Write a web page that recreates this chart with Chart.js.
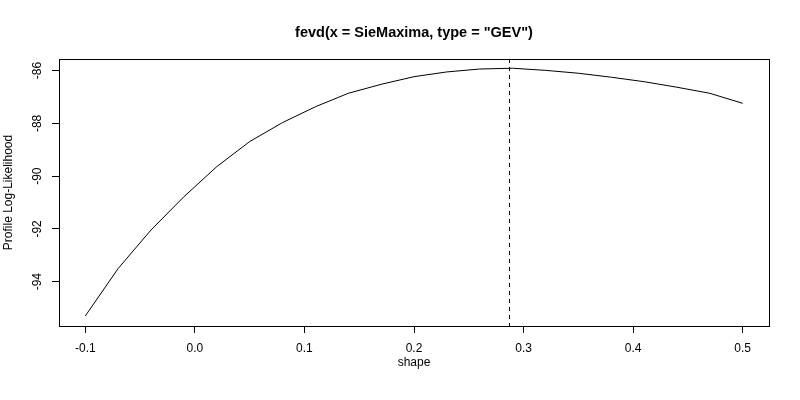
<!DOCTYPE html>
<html>
<head>
<meta charset="utf-8">
<script src="https://cdn.jsdelivr.net/npm/chart.js@4"></script>
<style>
  html, body { margin: 0; padding: 0; background: #fff; }
  #wrap { width: 800px; height: 400px; }
</style>
</head>
<body>
<div id="wrap"><canvas id="chart" width="800" height="400"></canvas></div>
<script>
// profile log-likelihood
const shapeVals = [-0.1, -0.07, -0.04, -0.01, 0.02, 0.05, 0.08, 0.11, 0.14, 0.17, 0.20,
                   0.23, 0.26, 0.29, 0.32, 0.35, 0.38, 0.41, 0.44, 0.47, 0.50];
const profLik = [-95.30, -93.50, -92.04, -90.78, -89.64, -88.69, -87.97, -87.37, -86.86, -86.52, -86.23,
                 -86.05, -85.94, -85.91, -85.99, -86.10, -86.25, -86.42, -86.63, -86.86, -87.24];
const mleShape = 0.2865;
const xTicks = [-0.1, 0.0, 0.1, 0.2, 0.3, 0.4, 0.5];
const yTicks = [-94, -92, -90, -88, -86];

const FONT = 'Liberation Sans, Arial, sans-serif';

// R-style box around the plot region + dashed line at the MLE
const boxPlugin = {
    id: 'rbox',
    afterDatasetsDraw(c) {
        const { ctx, chartArea: a } = c;
        const px = c.scales.x.getPixelForValue(mleShape);
        ctx.save();
        ctx.strokeStyle = '#000';
        ctx.lineWidth = 1;
        ctx.setLineDash([4, 4]);
        ctx.beginPath();
        ctx.moveTo(Math.round(px) + 0.5, a.top);
        ctx.lineTo(Math.round(px) + 0.5, a.bottom);
        ctx.stroke();
        ctx.setLineDash([]);
        ctx.strokeRect(Math.round(a.left) + 0.5, Math.round(a.top) + 0.5,
                       Math.round(a.right - a.left), Math.round(a.bottom - a.top));
        ctx.restore();
    }
};

const ctx = document.getElementById('chart').getContext('2d');
const chart = new Chart(ctx, {
    type: 'line',
    data: {
        datasets: [{
            data: shapeVals.map((s, i) => ({ x: s, y: profLik[i] })),
            borderColor: '#000',
            borderWidth: 1,
            pointRadius: 0,
            tension: 0,
            fill: false
        }]
    },
    options: {
        responsive: false,
        animation: false,
        layout: { padding: { left: 0, right: 31, top: 0, bottom: 0 } },
        plugins: {
            legend: { display: false },
            tooltip: { enabled: false },
            title: {
                display: true,
                text: 'fevd(x = SieMaxima, type = "GEV")',
                fullSize: false,
                color: '#000',
                font: { family: FONT, size: 14.5, weight: 'bold' },
                padding: { top: 24, bottom: 17.6 }
            }
        },
        scales: {
            x: {
                type: 'linear',
                min: -0.124,
                max: 0.524,
                afterBuildTicks: s => { s.ticks = xTicks.map(v => ({ value: v })); },
                afterFit: s => { s.height = 74; },
                grid: { display: true, drawOnChartArea: false, drawTicks: true, tickLength: 7, color: '#000' },
                border: { display: false },
                ticks: {
                    color: '#000',
                    font: { family: FONT, size: 12 },
                    padding: 8,
                    maxRotation: 0,
                    callback: v => v.toFixed(1)
                },
                title: {
                    display: true,
                    text: 'shape',
                    color: '#000',
                    font: { family: FONT, size: 12 },
                    padding: { top: 0, bottom: 30 }
                }
            },
            y: {
                min: -95.68,
                max: -85.56,
                afterBuildTicks: s => { s.ticks = yTicks.map(v => ({ value: v })); },
                afterFit: s => { s.width = 59; },
                grid: { display: true, drawOnChartArea: false, drawTicks: true, tickLength: 7, color: '#000' },
                border: { display: false },
                ticks: {
                    color: '#000',
                    font: { family: FONT, size: 12 },
                    padding: 6,
                    minRotation: 90,
                    maxRotation: 90,
                    crossAlign: 'center',
                    callback: v => String(v)
                },
                title: {
                    display: true,
                    text: 'Profile Log-Likelihood',
                    color: '#000',
                    font: { family: FONT, size: 12 },
                    padding: { top: 1.8, bottom: 0 }
                }
            }
        }
    },
    plugins: [boxPlugin]
});
</script>
</body>
</html>
